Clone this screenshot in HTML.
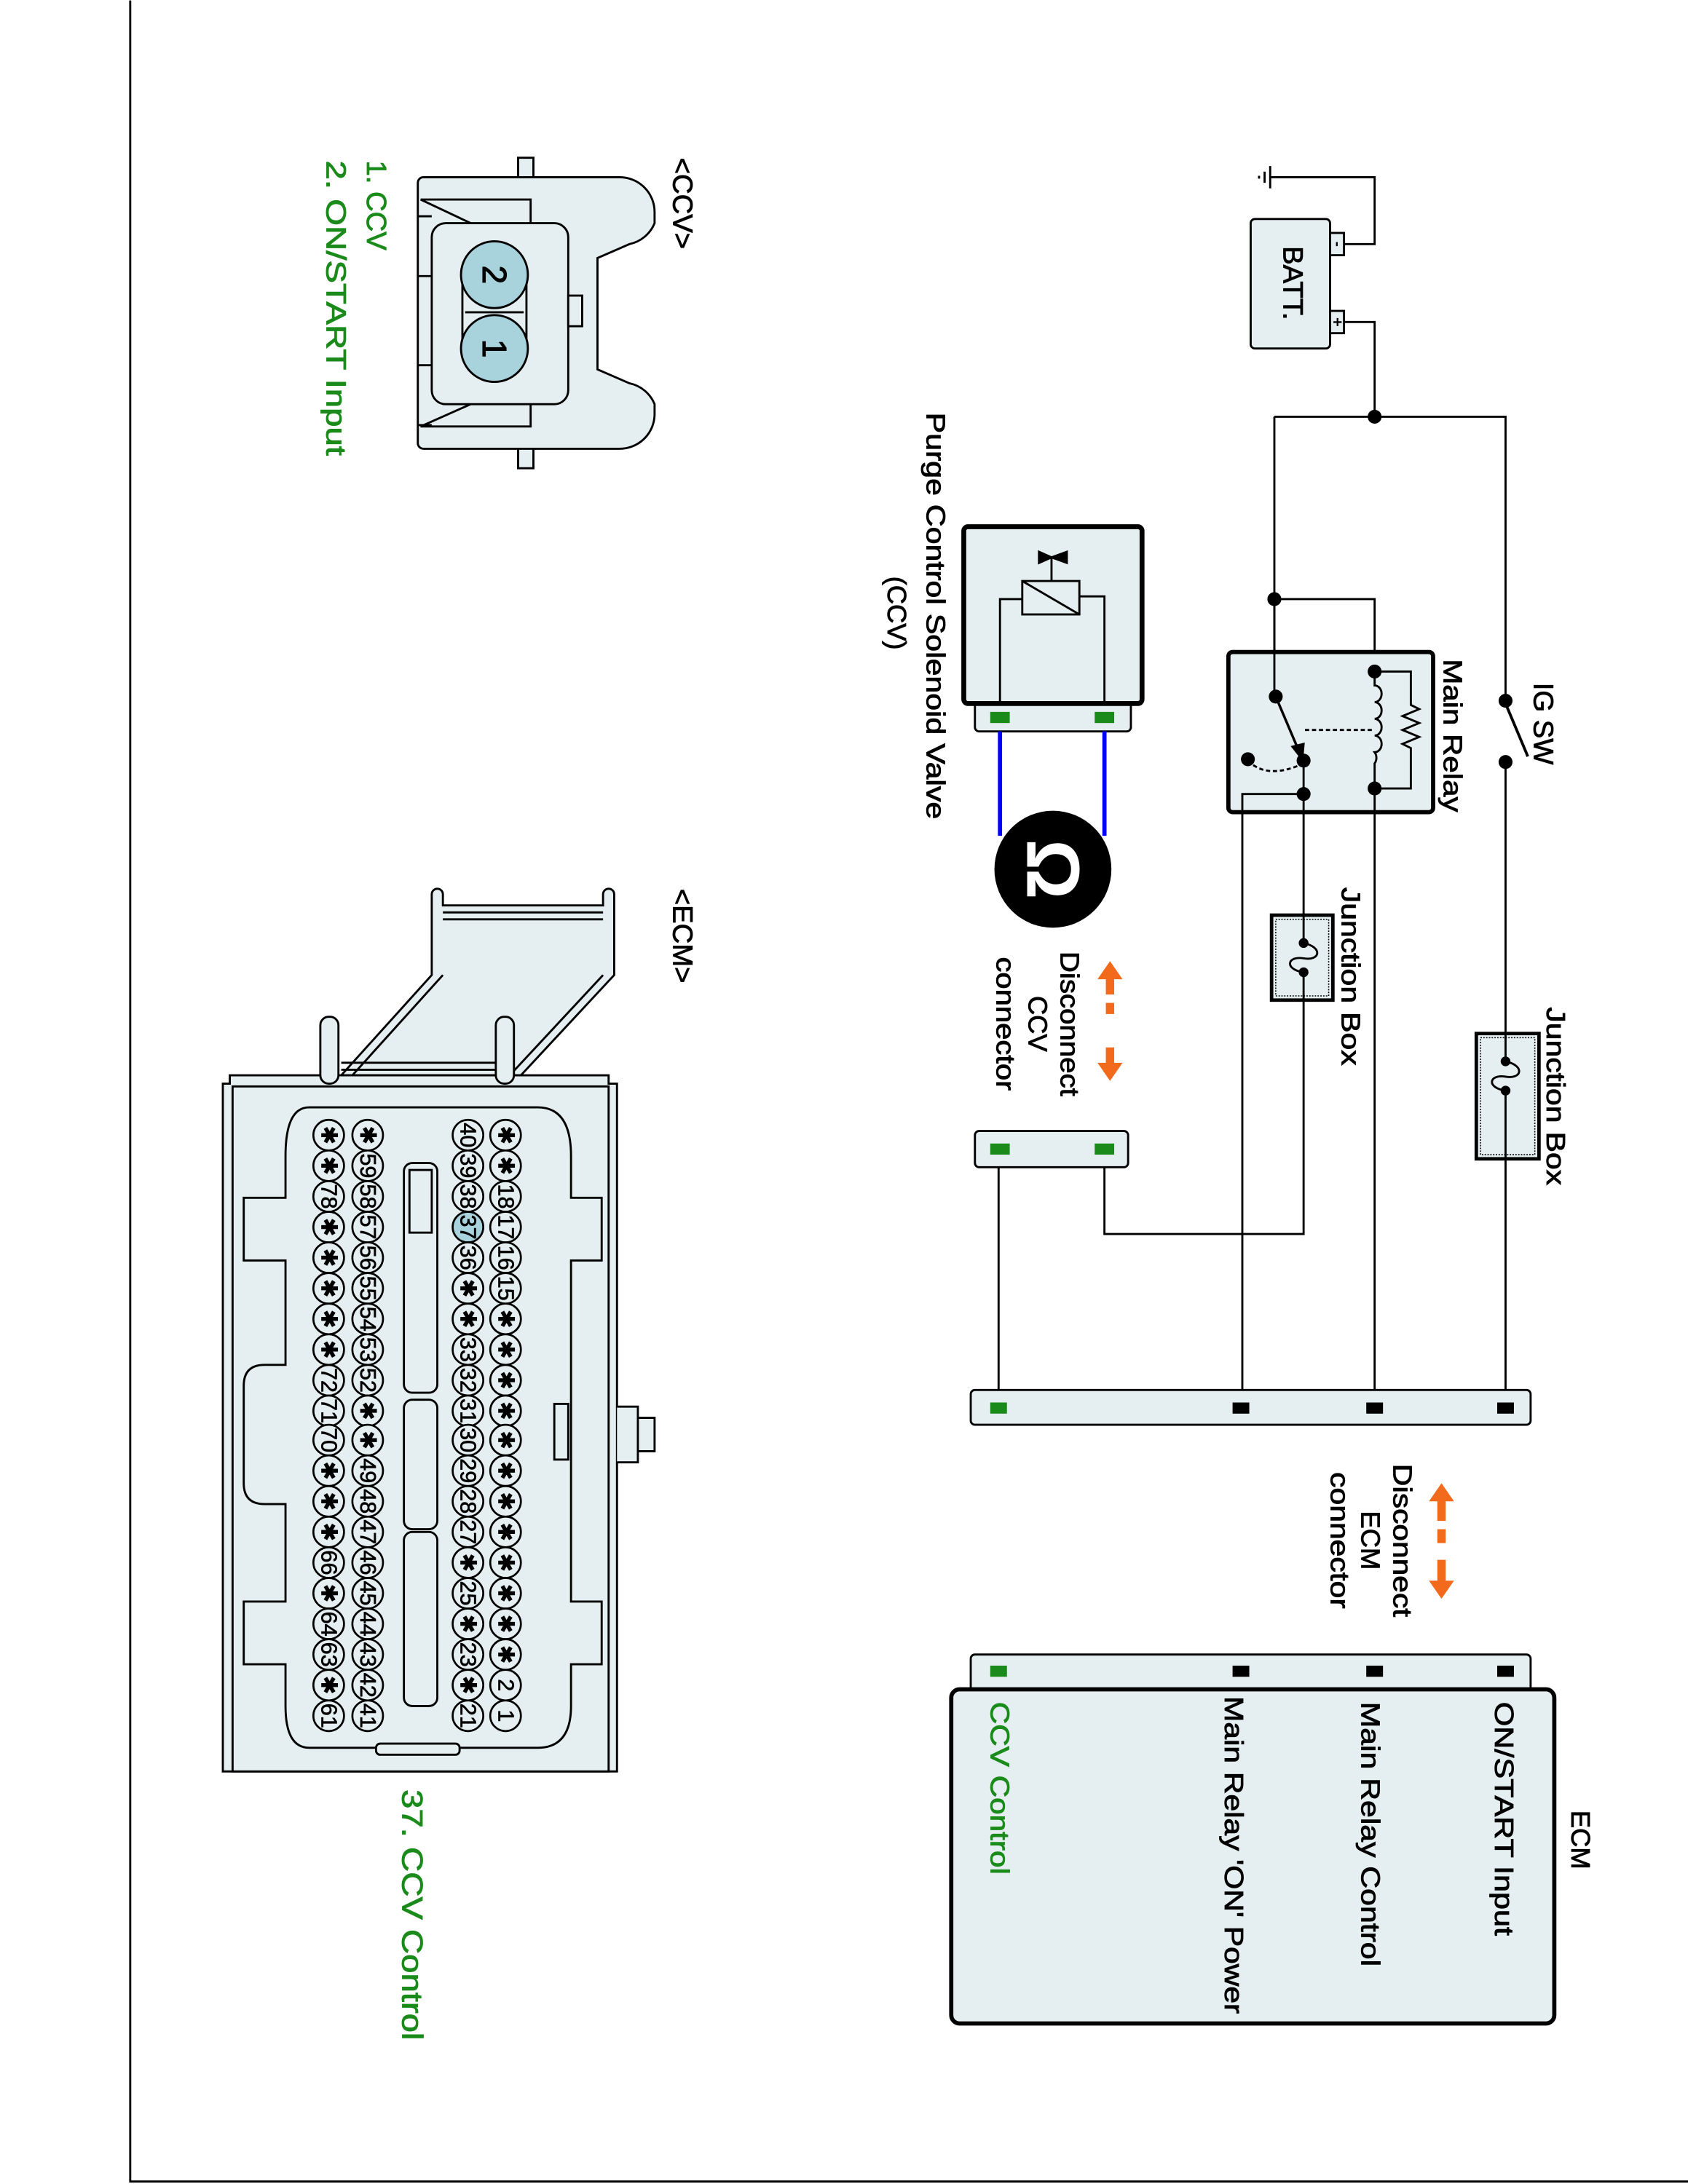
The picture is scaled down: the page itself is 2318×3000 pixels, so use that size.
<!DOCTYPE html>
<html><head><meta charset="utf-8"><style>html,body{margin:0;padding:0;background:#fff}svg{display:block}.lb text{stroke:#000;stroke-width:0.45}.lb text.g{stroke:#1a8a1a}</style></head>
<body>
<svg xmlns="http://www.w3.org/2000/svg" width="2318" height="3000" viewBox="0 0 1212 1568" font-family="Liberation Sans, sans-serif">
<rect x="0" y="0" width="1212" height="1568" fill="#fff"/>
<path d="M93.5 0 V1566.5 H1212" fill="none" stroke="#000" stroke-width="1.5"/>

<g fill="none" stroke="#000" stroke-width="1.5">
<path d="M912 127 H987 V175 H965"/>
<path d="M912 119 V135 M908 123 V131 M904 126 V128"/>
<rect x="898" y="157" width="57" height="93" rx="3" fill="#e5eef0"/>
<rect x="955" y="167" width="10" height="16" fill="#e5eef0"/>
<rect x="955" y="223" width="10" height="16" fill="#e5eef0"/>
<path d="M965 231 H987 V299"/>
<path d="M915 299 H1081 V503"/>
<path d="M1081 547 V742"/>
<path d="M1081 505 L1097 543" stroke-width="2"/>
<path d="M1081 832 V1005"/>
<path d="M915 299 V500"/>
<path d="M915 430 H987 V482"/>
<rect x="882" y="468" width="147" height="115" rx="3" fill="#e5eef0" stroke-width="3"/>
<path d="M915 430 V500"/>
<path d="M987 482 V492 a5 6 0 0 1 0 12 a5 6 0 0 1 0 12 a5 6 0 0 1 0 12 a5 6 0 0 1 0 12 a5 6 0 0 1 0 8 V566" />
<path d="M987 482 H1013 V506 l6 3 -12 5 12 5 -12 5 12 5 -12 5 6 3 V566 H987"/>
<path d="M937 524 H985" stroke-dasharray="3,2"/>
<path d="M916 500 L933 540" stroke-width="1.8"/>
<path d="M928 536 L935 545 L936 534 Z" fill="#000"/>
<path d="M896 546 Q910 560 936 548" stroke-dasharray="3,2"/>
<path d="M936 546 V657"/>
<path d="M936 570 H892 V1005"/>
<path d="M987 566 V1005"/>
<rect x="913" y="657" width="44" height="61" fill="#e5eef0" stroke-width="2.5"/>
<rect x="916" y="660" width="38" height="55" stroke-width="0.8" stroke-dasharray="1,1"/>
<path d="M936 657 V677 M936 698 V718"/>
<path d="M936 677 C950 680 948 690 936 688 C924 686 922 696 936 698" />
<rect x="1060" y="742" width="45" height="90" fill="#e5eef0" stroke-width="2.5"/>
<rect x="1063" y="745" width="39" height="84" stroke-width="0.8" stroke-dasharray="1,1"/>
<path d="M1081 742 V762 M1081 783 V832"/>
<path d="M1081 762 C1095 765 1093 775 1081 773 C1069 771 1067 781 1081 783"/>
<path d="M936 718 V886 H793 V833"/>
<path d="M717 838 V1005"/>
<rect x="700" y="500" width="112" height="25" rx="3" fill="#e5eef0"/>
<rect x="692" y="378" width="128" height="127" rx="3" fill="#e5eef0" stroke-width="3.5"/>
<rect x="734" y="417" width="41" height="24"/>
<path d="M734 417 L775 441"/>
<path d="M718 505 V430 H734 M793 505 V428 H775"/>
<path d="M755 417 V400"/>
<path d="M746 396 L755 400 L746 404 Z M766 396 L755 400 L766 404 Z" fill="#000"/>
<rect x="700" y="812" width="110" height="26" rx="3" fill="#e5eef0"/>
<rect x="697" y="998" width="402" height="25" rx="3" fill="#e5eef0"/>
<rect x="697" y="1188" width="402" height="30" rx="3" fill="#e5eef0"/>
<rect x="683" y="1213" width="433" height="240" rx="6" fill="#e5eef0" stroke-width="3"/>
</g>
<g fill="#000">
<circle cx="987" cy="299" r="5"/><circle cx="1081" cy="503" r="5"/><circle cx="1081" cy="547" r="5"/>
<circle cx="915" cy="430" r="5"/><circle cx="916" cy="500" r="5"/><circle cx="936" cy="546" r="5"/>
<circle cx="896" cy="545" r="5"/><circle cx="936" cy="570" r="5"/><circle cx="987" cy="482" r="5"/><circle cx="987" cy="566" r="5"/>
<circle cx="936" cy="677" r="3.5"/><circle cx="936" cy="698" r="3.5"/><circle cx="1081" cy="762" r="3.5"/><circle cx="1081" cy="783" r="3.5"/>
<rect x="885" y="1007" width="12" height="8"/><rect x="981" y="1007" width="12" height="8"/><rect x="1075" y="1007" width="12" height="8"/>
<rect x="885" y="1196" width="12" height="8"/><rect x="981" y="1196" width="12" height="8"/><rect x="1075" y="1196" width="12" height="8"/>
</g>
<g fill="#1a8a1a">
<rect x="711" y="511" width="14" height="8"/><rect x="786" y="511" width="14" height="8"/>
<rect x="711" y="821" width="14" height="8"/><rect x="786" y="821" width="14" height="8"/>
<rect x="711" y="1007" width="12" height="8"/><rect x="711" y="1196" width="12" height="8"/>
</g>
<path d="M718 525 V600 M793 525 V600" stroke="#0000ff" stroke-width="3"/>
<circle cx="756" cy="624" r="42" fill="#000"/>
<text transform="translate(756,624) rotate(90)" text-anchor="middle" dominant-baseline="central" font-size="54" font-weight="bold" fill="#fff">Ω</text>
<g fill="#f26a1b">
<path d="M797 690 L806 703 L800 703 V714 H794 V703 L788 703 Z"/>
<path d="M794 720 H800 V728 H794 Z"/>
<path d="M797 776 L806 763 L800 763 V752 H794 V763 L788 763 Z"/>
<path d="M1035 1065 L1044 1078 L1038 1078 V1092 H1032 V1078 L1026 1078 Z"/>
<path d="M1032 1098 H1038 V1108 H1032 Z"/>
<path d="M1035 1148 L1044 1135 L1038 1135 V1120 H1032 V1135 L1026 1135 Z"/>
</g>

<g class="lb" font-size="19" fill="#000" dominant-baseline="central">
<text transform="translate(928,203) rotate(90)" text-anchor="middle" font-size="20">BATT.</text>
<text transform="translate(960,175) rotate(90)" text-anchor="middle" font-size="10">-</text>
<text transform="translate(960,231) rotate(90)" text-anchor="middle" font-size="11">+</text>
<text transform="translate(1108,490) rotate(90)" font-size="20">IG SW</text>
<text transform="translate(1043,473) rotate(90)" textLength="110" lengthAdjust="spacingAndGlyphs">Main Relay</text>
<text transform="translate(970,637) rotate(90)" textLength="128" lengthAdjust="spacingAndGlyphs">Junction Box</text>
<text transform="translate(1117,723) rotate(90)" textLength="128" lengthAdjust="spacingAndGlyphs">Junction Box</text>
<text transform="translate(672,296) rotate(90)" textLength="292" lengthAdjust="spacingAndGlyphs">Purge Control Solenoid Valve</text>
<text transform="translate(644,440) rotate(90)" text-anchor="middle">(CCV)</text>
<text transform="translate(768,735) rotate(90)" text-anchor="middle" textLength="104" lengthAdjust="spacingAndGlyphs">Disconnect</text>
<text transform="translate(745,735) rotate(90)" text-anchor="middle">CCV</text>
<text transform="translate(722,735) rotate(90)" text-anchor="middle" textLength="96" lengthAdjust="spacingAndGlyphs">connector</text>
<text transform="translate(1007,1106) rotate(90)" text-anchor="middle" textLength="110" lengthAdjust="spacingAndGlyphs">Disconnect</text>
<text transform="translate(984,1106) rotate(90)" text-anchor="middle">ECM</text>
<text transform="translate(962,1106) rotate(90)" text-anchor="middle" textLength="98" lengthAdjust="spacingAndGlyphs">connector</text>
<text transform="translate(1135,1300) rotate(90)">ECM</text>
<text transform="translate(1080,1222) rotate(90)" textLength="168" lengthAdjust="spacingAndGlyphs">ON/START Input</text>
<text transform="translate(984,1222) rotate(90)" textLength="190" lengthAdjust="spacingAndGlyphs">Main Relay Control</text>
<text transform="translate(886,1218) rotate(90)" textLength="228" lengthAdjust="spacingAndGlyphs">Main Relay 'ON' Power</text>
<text class="g" transform="translate(718,1222) rotate(90)" fill="#1a8a1a" textLength="124" lengthAdjust="spacingAndGlyphs">CCV Control</text>
<text transform="translate(490,113) rotate(90)" font-size="20">&lt;CCV&gt;</text>
<text transform="translate(490,638) rotate(90)" font-size="20">&lt;ECM&gt;</text>
<text class="g" transform="translate(270,115) rotate(90)" fill="#1a8a1a" font-size="20">1. CCV</text>
<text class="g" transform="translate(241,115) rotate(90)" fill="#1a8a1a" textLength="212" lengthAdjust="spacingAndGlyphs" font-size="20">2. ON/START Input</text>
<text class="g" transform="translate(296,1285) rotate(90)" fill="#1a8a1a" textLength="180" lengthAdjust="spacingAndGlyphs" font-size="21">37. CCV Control</text>
</g>

<g fill="#e5eef0" stroke="#000" stroke-width="1.5">
<rect x="372" y="113" width="11" height="16"/>
<rect x="372" y="320" width="11" height="16"/>
<path d="M304 127 H445 A25 25 0 0 1 470 152 V160 A25 25 0 0 1 452 175 L429 185 V265 L452 275 A25 25 0 0 1 470 290 V298 A25 25 0 0 1 445 322 H304 A4 4 0 0 1 300 318 V131 A4 4 0 0 1 304 127 Z"/>
<path d="M302 143 H381 V160 M381 290 V306 H302 L338 290 M302 143 L338 160"/>
<path d="M300 155 H310 M300 198 H310 M300 262 H310 M300 305 H310"/>
<rect x="310" y="160" width="98" height="130" rx="10"/>
<rect x="408" y="212" width="10" height="22"/>
<path d="M332 197 V250 M378 197 V250 M334 224 H376"/>
<circle cx="355" cy="197" r="24" fill="#a8d3dc"/>
<circle cx="355" cy="250" r="24" fill="#a8d3dc"/>
</g>
<g font-size="24" dominant-baseline="central" text-anchor="middle" stroke="#000" stroke-width="0.6">
<text transform="translate(355,197) rotate(90)">2</text>
<text transform="translate(355,250) rotate(90)">1</text>
</g>

<g fill="#e5eef0" stroke="#000" stroke-width="1.5">
<path d="M245 772 L310 700 V642 A4 4 0 0 1 318 642 V650 H433 V642 A4 4 0 0 1 441 642 V700 L374 772 Z"/>
<path d="M318 655 H433 M318 660 H433"/>
<path d="M318 700 L253 772 M433 700 L366 772" />
<path d="M165 778 V772 H437 V778 H443 V1272 H160 V778 Z"/>
<rect x="167" y="780" width="270" height="492"/>
<rect x="230" y="730" width="13" height="48" rx="6"/>
<rect x="356" y="730" width="13" height="48" rx="6"/>
<path d="M245 763 H356 M245 768 H356"/>
<path d="M222 795 H386 Q410 795 410 830 V860 H432 V905 H410 V1150 H432 V1195 H410 V1225 Q410 1255 386 1255 H222 Q205 1255 205 1225 V1195 H175 V1150 H205 V1080 H190 Q175 1080 175 1065 V995 Q175 980 190 980 H205 V905 H175 V860 H205 V830 Q205 795 222 795 Z"/>
<path d="M443 1010 H458 V1050 H443 M458 1018 H470 V1042 H458"/>
<rect x="398" y="1008" width="10" height="40"/>
<rect x="290" y="835" width="24" height="165" rx="6"/>
<rect x="294" y="840" width="16" height="45"/>
<rect x="290" y="1005" width="24" height="93" rx="6"/>
<rect x="290" y="1100" width="24" height="125" rx="6"/>
<rect x="270" y="1252" width="60" height="8" rx="3"/>
</g>
<g stroke="#000" stroke-width="1.4" fill="#e5eef0">
<circle cx="363" cy="815" r="11"/><circle cx="363" cy="837" r="11"/><circle cx="363" cy="859" r="11"/><circle cx="363" cy="881" r="11"/><circle cx="363" cy="903" r="11"/><circle cx="363" cy="925" r="11"/><circle cx="363" cy="947" r="11"/><circle cx="363" cy="969" r="11"/><circle cx="363" cy="991" r="11"/><circle cx="363" cy="1013" r="11"/><circle cx="363" cy="1034" r="11"/><circle cx="363" cy="1056" r="11"/><circle cx="363" cy="1078" r="11"/><circle cx="363" cy="1100" r="11"/><circle cx="363" cy="1122" r="11"/><circle cx="363" cy="1144" r="11"/><circle cx="363" cy="1166" r="11"/><circle cx="363" cy="1188" r="11"/><circle cx="363" cy="1210" r="11"/><circle cx="363" cy="1232" r="11"/>
<circle cx="336" cy="815" r="11"/><circle cx="336" cy="837" r="11"/><circle cx="336" cy="859" r="11"/><circle cx="336" cy="881" r="11" fill="#a8d3dc"/><circle cx="336" cy="903" r="11"/><circle cx="336" cy="925" r="11"/><circle cx="336" cy="947" r="11"/><circle cx="336" cy="969" r="11"/><circle cx="336" cy="991" r="11"/><circle cx="336" cy="1013" r="11"/><circle cx="336" cy="1034" r="11"/><circle cx="336" cy="1056" r="11"/><circle cx="336" cy="1078" r="11"/><circle cx="336" cy="1100" r="11"/><circle cx="336" cy="1122" r="11"/><circle cx="336" cy="1144" r="11"/><circle cx="336" cy="1166" r="11"/><circle cx="336" cy="1188" r="11"/><circle cx="336" cy="1210" r="11"/><circle cx="336" cy="1232" r="11"/>
<circle cx="264" cy="815" r="11"/><circle cx="264" cy="837" r="11"/><circle cx="264" cy="859" r="11"/><circle cx="264" cy="881" r="11"/><circle cx="264" cy="903" r="11"/><circle cx="264" cy="925" r="11"/><circle cx="264" cy="947" r="11"/><circle cx="264" cy="969" r="11"/><circle cx="264" cy="991" r="11"/><circle cx="264" cy="1013" r="11"/><circle cx="264" cy="1034" r="11"/><circle cx="264" cy="1056" r="11"/><circle cx="264" cy="1078" r="11"/><circle cx="264" cy="1100" r="11"/><circle cx="264" cy="1122" r="11"/><circle cx="264" cy="1144" r="11"/><circle cx="264" cy="1166" r="11"/><circle cx="264" cy="1188" r="11"/><circle cx="264" cy="1210" r="11"/><circle cx="264" cy="1232" r="11"/>
<circle cx="236" cy="815" r="11"/><circle cx="236" cy="837" r="11"/><circle cx="236" cy="859" r="11"/><circle cx="236" cy="881" r="11"/><circle cx="236" cy="903" r="11"/><circle cx="236" cy="925" r="11"/><circle cx="236" cy="947" r="11"/><circle cx="236" cy="969" r="11"/><circle cx="236" cy="991" r="11"/><circle cx="236" cy="1013" r="11"/><circle cx="236" cy="1034" r="11"/><circle cx="236" cy="1056" r="11"/><circle cx="236" cy="1078" r="11"/><circle cx="236" cy="1100" r="11"/><circle cx="236" cy="1122" r="11"/><circle cx="236" cy="1144" r="11"/><circle cx="236" cy="1166" r="11"/><circle cx="236" cy="1188" r="11"/><circle cx="236" cy="1210" r="11"/><circle cx="236" cy="1232" r="11"/>
</g>
<g font-size="16" text-anchor="middle" dominant-baseline="central" fill="#000" stroke="#000" stroke-width="0.35">
<g transform="translate(363,0)">
<text transform="translate(0,815) rotate(90)">✱</text><text transform="translate(0,837) rotate(90)">✱</text><text transform="translate(0,859) rotate(90)">18</text><text transform="translate(0,881) rotate(90)">17</text><text transform="translate(0,903) rotate(90)">16</text><text transform="translate(0,925) rotate(90)">15</text><text transform="translate(0,947) rotate(90)">✱</text><text transform="translate(0,969) rotate(90)">✱</text><text transform="translate(0,991) rotate(90)">✱</text><text transform="translate(0,1013) rotate(90)">✱</text><text transform="translate(0,1034) rotate(90)">✱</text><text transform="translate(0,1056) rotate(90)">✱</text><text transform="translate(0,1078) rotate(90)">✱</text><text transform="translate(0,1100) rotate(90)">✱</text><text transform="translate(0,1122) rotate(90)">✱</text><text transform="translate(0,1144) rotate(90)">✱</text><text transform="translate(0,1166) rotate(90)">✱</text><text transform="translate(0,1188) rotate(90)">✱</text><text transform="translate(0,1210) rotate(90)">2</text><text transform="translate(0,1232) rotate(90)">1</text>
</g>
<g transform="translate(336,0)">
<text transform="translate(0,815) rotate(90)">40</text><text transform="translate(0,837) rotate(90)">39</text><text transform="translate(0,859) rotate(90)">38</text><text transform="translate(0,881) rotate(90)">37</text><text transform="translate(0,903) rotate(90)">36</text><text transform="translate(0,925) rotate(90)">✱</text><text transform="translate(0,947) rotate(90)">✱</text><text transform="translate(0,969) rotate(90)">33</text><text transform="translate(0,991) rotate(90)">32</text><text transform="translate(0,1013) rotate(90)">31</text><text transform="translate(0,1034) rotate(90)">30</text><text transform="translate(0,1056) rotate(90)">29</text><text transform="translate(0,1078) rotate(90)">28</text><text transform="translate(0,1100) rotate(90)">27</text><text transform="translate(0,1122) rotate(90)">✱</text><text transform="translate(0,1144) rotate(90)">25</text><text transform="translate(0,1166) rotate(90)">✱</text><text transform="translate(0,1188) rotate(90)">23</text><text transform="translate(0,1210) rotate(90)">✱</text><text transform="translate(0,1232) rotate(90)">21</text>
</g>
<g transform="translate(264,0)">
<text transform="translate(0,815) rotate(90)">✱</text><text transform="translate(0,837) rotate(90)">59</text><text transform="translate(0,859) rotate(90)">58</text><text transform="translate(0,881) rotate(90)">57</text><text transform="translate(0,903) rotate(90)">56</text><text transform="translate(0,925) rotate(90)">55</text><text transform="translate(0,947) rotate(90)">54</text><text transform="translate(0,969) rotate(90)">53</text><text transform="translate(0,991) rotate(90)">52</text><text transform="translate(0,1013) rotate(90)">✱</text><text transform="translate(0,1034) rotate(90)">✱</text><text transform="translate(0,1056) rotate(90)">49</text><text transform="translate(0,1078) rotate(90)">48</text><text transform="translate(0,1100) rotate(90)">47</text><text transform="translate(0,1122) rotate(90)">46</text><text transform="translate(0,1144) rotate(90)">45</text><text transform="translate(0,1166) rotate(90)">44</text><text transform="translate(0,1188) rotate(90)">43</text><text transform="translate(0,1210) rotate(90)">42</text><text transform="translate(0,1232) rotate(90)">41</text>
</g>
<g transform="translate(236,0)">
<text transform="translate(0,815) rotate(90)">✱</text><text transform="translate(0,837) rotate(90)">✱</text><text transform="translate(0,859) rotate(90)">78</text><text transform="translate(0,881) rotate(90)">✱</text><text transform="translate(0,903) rotate(90)">✱</text><text transform="translate(0,925) rotate(90)">✱</text><text transform="translate(0,947) rotate(90)">✱</text><text transform="translate(0,969) rotate(90)">✱</text><text transform="translate(0,991) rotate(90)">72</text><text transform="translate(0,1013) rotate(90)">71</text><text transform="translate(0,1034) rotate(90)">70</text><text transform="translate(0,1056) rotate(90)">✱</text><text transform="translate(0,1078) rotate(90)">✱</text><text transform="translate(0,1100) rotate(90)">✱</text><text transform="translate(0,1122) rotate(90)">66</text><text transform="translate(0,1144) rotate(90)">✱</text><text transform="translate(0,1166) rotate(90)">64</text><text transform="translate(0,1188) rotate(90)">63</text><text transform="translate(0,1210) rotate(90)">✱</text><text transform="translate(0,1232) rotate(90)">61</text>
</g>
</g>
</svg>
</body></html>
